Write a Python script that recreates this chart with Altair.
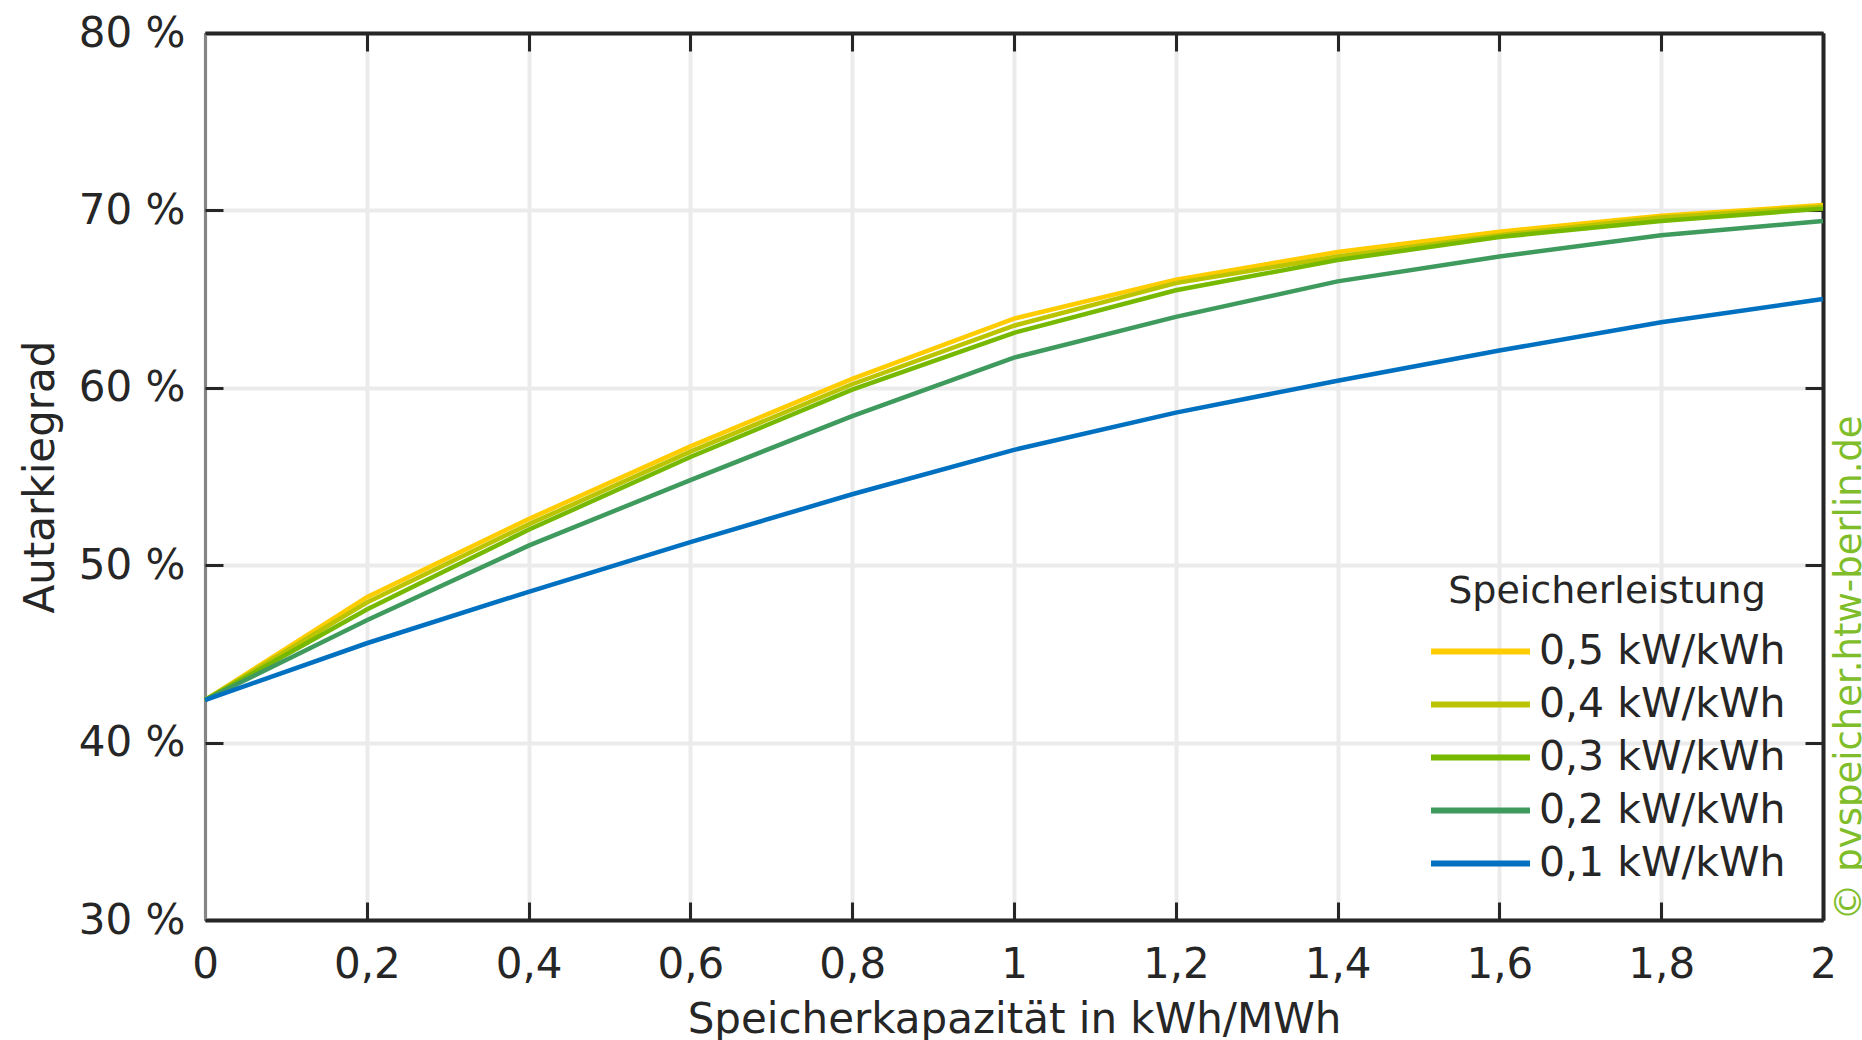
import altair as alt
import pandas as pd

# ---- data ----
x_vals = [0, 0.2, 0.4, 0.6, 0.8, 1.0, 1.2, 1.4, 1.6, 1.8, 2.0]
series_names = ["0,5 kW/kWh", "0,4 kW/kWh", "0,3 kW/kWh", "0,2 kW/kWh", "0,1 kW/kWh"]
s05 = [42.4, 48.2, 52.6, 56.7, 60.5, 63.9, 66.1, 67.65, 68.8, 69.7, 70.3]
s04 = [42.4, 47.9, 52.3, 56.4, 60.2, 63.5, 65.9, 67.4, 68.6, 69.6, 70.2]
s03 = [42.4, 47.5, 52.0, 56.1, 59.9, 63.1, 65.5, 67.2, 68.5, 69.4, 70.1]
s02 = [42.4, 46.9, 51.1, 54.8, 58.4, 61.7, 64.0, 66.0, 67.4, 68.6, 69.4]
s01 = [42.4, 45.6, 48.5, 51.3, 54.0, 56.5, 58.6, 60.4, 62.1, 63.7, 65.0]
colors = ["#FFCC00", "#BBC400", "#76B900", "#3F9A5E", "#0070C0"]
x_ticks = [0, 0.2, 0.4, 0.6, 0.8, 1, 1.2, 1.4, 1.6, 1.8, 2]
y_ticks = [30, 40, 50, 60, 70, 80]

rows = []
for name, vals in zip(series_names, [s05, s04, s03, s02, s01]):
    for xv, yv in zip(x_vals, vals):
        rows.append({"x": xv, "y": yv, "series": name})
df = pd.DataFrame(rows)

W, H = 1618, 887
FONT = "DejaVu Sans"
DARK = "#262626"
TICK = 18

xs = alt.Scale(domain=[0, 2], nice=False, zero=False)
ys = alt.Scale(domain=[30, 80], nice=False, zero=False)

base = alt.Chart(df)

main = base.mark_line(strokeWidth=4.5).encode(
    x=alt.X("x:Q", scale=xs, axis=alt.Axis(
        orient="bottom", values=x_ticks,
        labelExpr="replace(format(datum.value, '~g'), '.', ',')",
        title="Speicherkapazität in kWh/MWh",
        grid=True, ticks=False, tickSize=0, labelFlush=False,
        domainColor=DARK, domainWidth=4,
        labelPadding=24, titlePadding=14)),
    y=alt.Y("y:Q", scale=ys, axis=alt.Axis(
        orient="left", values=y_ticks,
        labelExpr="format(datum.value, 'd') + ' %'",
        title="Autarkiegrad",
        grid=True, ticks=False, tickSize=0, labelFlush=False,
        domainColor="#858585", domainWidth=3,
        labelPadding=20, titlePadding=16)),
    color=alt.Color("series:N",
        scale=alt.Scale(domain=series_names, range=colors),
        legend=alt.Legend(
            orient="none", legendX=1223, legendY=540,
            title="Speicherleistung", titleFontSize=38, titleFontWeight="normal",
            titleFont=FONT, titleColor=DARK, titleAnchor="middle", titlePadding=14,
            titleLimit=0, labelLimit=0,
            labelFont=FONT, labelFontSize=41, labelColor=DARK, labelOffset=6,
            symbolType="stroke", symbolSize=9800, symbolStrokeWidth=6,
            clipHeight=53, rowPadding=0, padding=0)),
)

ticks_bl = base.mark_line(strokeOpacity=0).encode(
    x=alt.X("x:Q", scale=xs, axis=alt.Axis(
        orient="bottom", values=x_ticks, offset=-TICK, tickSize=TICK,
        labels=False, domain=False, grid=False, title="")),
    y=alt.Y("y:Q", scale=ys, axis=alt.Axis(
        orient="left", values=y_ticks, offset=-TICK, tickSize=TICK,
        labels=False, domain=False, grid=False, title="")),
)

ticks_tr = base.mark_line(strokeOpacity=0).encode(
    x=alt.X("x:Q", scale=xs, axis=alt.Axis(
        orient="top", values=x_ticks, offset=-TICK, tickSize=TICK,
        labels=False, domain=False, grid=False, title="")),
    y=alt.Y("y:Q", scale=ys, axis=alt.Axis(
        orient="right", values=y_ticks, offset=-TICK, tickSize=TICK,
        labels=False, domain=False, grid=False, title="")),
)

frame_tr = base.mark_line(strokeOpacity=0).encode(
    x=alt.X("x:Q", scale=xs, axis=alt.Axis(
        orient="top", ticks=False, labels=False, grid=False, title="",
        domainColor=DARK, domainWidth=4)),
    y=alt.Y("y:Q", scale=ys, axis=alt.Axis(
        orient="right", ticks=False, labels=False, grid=False,
        domainColor=DARK, domainWidth=4,
        title="© pvspeicher.htw-berlin.de", titleAngle=270,
        titleAnchor="start", titleAlign="left", titleBaseline="top",
        titleFontSize=37, titleColor="#80BD2A", titlePadding=8, titleLimit=0)),
)

chart = alt.layer(main, ticks_bl, ticks_tr, frame_tr).resolve_axis(
    x="independent", y="independent"
).properties(
    width=W, height=H,
    autosize=alt.AutoSizeParams(type="none"),
    padding={"left": 205, "top": 33, "right": 39, "bottom": 120},
    background="white",
).configure_axis(
    labelFont=FONT, titleFont=FONT,
    labelColor=DARK, titleColor=DARK,
    labelFontSize=42, titleFontSize=42, titleFontWeight="normal",
    gridColor="#EBEBEB", gridWidth=4,
    tickColor=DARK, tickWidth=3,
).configure_view(strokeWidth=0)

chart.save("out.html", embed_options={"renderer": "svg", "actions": False})
